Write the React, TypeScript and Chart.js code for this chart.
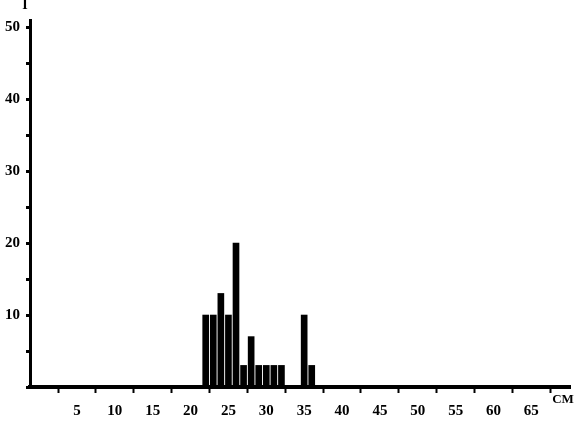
import React, { useEffect, useRef } from "react";
import { Chart, registerables } from "chart.js";

Chart.register(...registerables);

const lengthsCm = [22, 23, 24, 25, 26, 27, 28, 29, 30, 31, 32, 35, 36];
const counts = [10, 10, 13, 10, 20, 3, 7, 3, 3, 3, 3, 10, 3];
const xTickLabels = [5, 10, 15, 20, 25, 30, 35, 40, 45, 50, 55, 60, 65];
const yTickLabels = [10, 20, 30, 40, 50];
const yAxisTitle = "I";
const xAxisTitle = "CM";

const FONT = "'Liberation Serif', serif";

const labelsPlugin = {
  id: "cornerLabels",
  afterDraw(chart: any) {
    const ctx = chart.ctx;
    ctx.save();
    ctx.fillStyle = "#000";
    ctx.font = `bold 14px ${FONT}`;
    ctx.textAlign = "center";
    ctx.textBaseline = "middle";
    ctx.fillText(yAxisTitle, 25, 5);
    ctx.font = `bold 13px ${FONT}`;
    ctx.fillText(xAxisTitle, 563, 400);
    ctx.restore();
  },
};

export default function App() {
  const ref = useRef<HTMLCanvasElement | null>(null);
  useEffect(() => {
    if (!ref.current) return;
    const chart = new Chart(ref.current, {
      type: "bar",
      data: {
        datasets: [
          {
            data: lengthsCm.map((x, i) => ({ x, y: counts[i] })),
            backgroundColor: "#000",
            borderWidth: 0,
            barThickness: 6,
          } as any,
        ],
      },
      options: {
        animation: false,
        responsive: true,
        maintainAspectRatio: false,
        layout: { padding: { top: 20, right: 5, left: 0, bottom: 0 } },
        plugins: { legend: { display: false }, tooltip: { enabled: false } },
        scales: {
          x: {
            type: "linear",
            min: -1.2,
            max: 70.1,
            offset: false,
            afterFit: (s: any) => {
              s.height = 34;
              s.paddingLeft = 0;
              s.paddingRight = 0;
            },
            border: { display: true, color: "#000", width: 4, dash: [7, 2] },
            grid: {
              drawOnChartArea: false,
              drawTicks: true,
              tickLength: 6,
              tickWidth: 2,
              tickColor: "#000",
            },
            ticks: {
              stepSize: 5,
              includeBounds: false,
              autoSkip: false,
              maxRotation: 0,
              padding: 9,
              color: "#000",
              font: { family: FONT, size: 15, weight: "bold" },
              callback: (v: any) => (xTickLabels.includes(Number(v)) ? String(v) : ""),
            },
          },
          y: {
            type: "linear",
            min: 0,
            max: 51,
            afterFit: (s: any) => {
              s.width = 30;
              s.paddingTop = 0;
              s.paddingBottom = 0;
            },
            border: { display: true, color: "#000", width: 3 },
            grid: {
              drawOnChartArea: false,
              drawTicks: true,
              tickLength: 4,
              tickWidth: 3,
              tickColor: "#000",
            },
            ticks: {
              stepSize: 5,
              includeBounds: false,
              autoSkip: false,
              padding: 6,
              color: "#000",
              font: { family: FONT, size: 15, weight: "bold" },
              callback: (v: any) => (yTickLabels.includes(Number(v)) ? String(v) : ""),
            },
          },
        },
      },
      plugins: [labelsPlugin],
    });
    return () => chart.destroy();
  }, []);
  return (
    <div style={{ position: "absolute", left: 0, top: 0, width: 575, height: 421, background: "#fff" }}>
      <canvas ref={ref} />
    </div>
  );
}
